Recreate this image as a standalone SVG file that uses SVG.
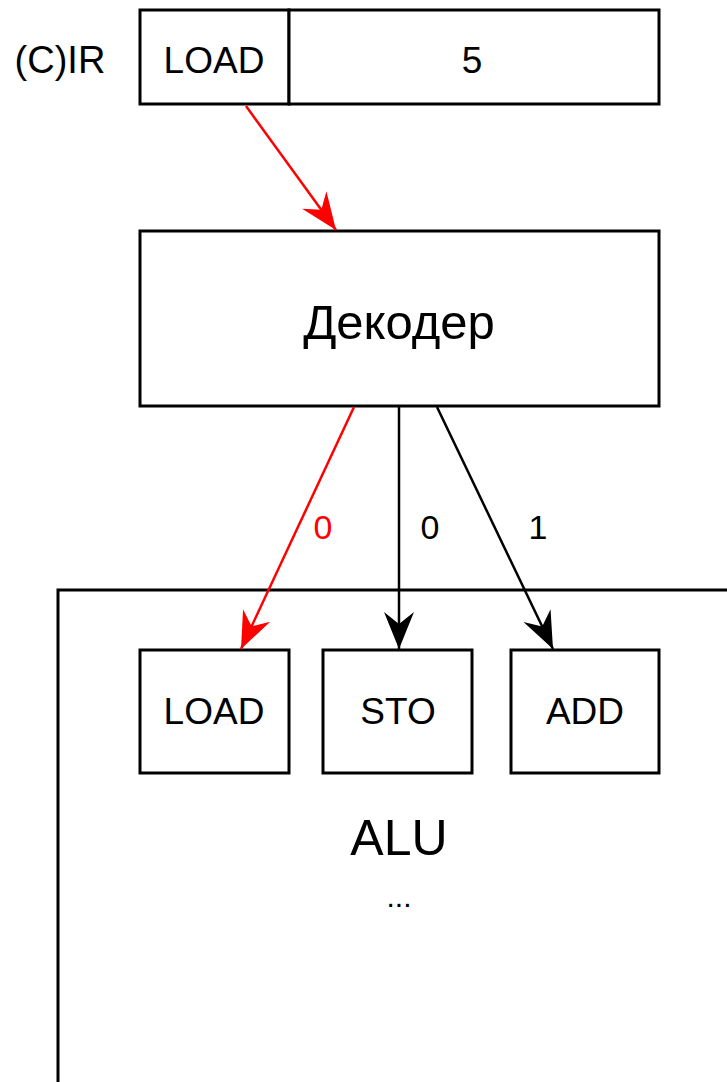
<svg xmlns="http://www.w3.org/2000/svg" width="727" height="1082" viewBox="0 0 727 1082">
<style>
.box{fill:#fff;stroke:#000;stroke-width:3}
.t{font-family:"Liberation Sans",Arial,sans-serif;fill:#000;text-anchor:middle;dominant-baseline:central}
.red{stroke:#ff0000;stroke-width:2.5;fill:none}
.blk{stroke:#000;stroke-width:2.5;fill:none}
</style>
<defs>
<marker id="ar" markerUnits="userSpaceOnUse" markerWidth="40" markerHeight="34" viewBox="-38 -16 40 32" refX="0" refY="0" orient="auto">
<path d="M0,0 L-37,-15 L-25,0 L-37,15 Z" fill="#ff0000"/>
</marker>
<marker id="ab" markerUnits="userSpaceOnUse" markerWidth="40" markerHeight="34" viewBox="-38 -16 40 32" refX="0" refY="0" orient="auto">
<path d="M0,0 L-37,-15 L-25,0 L-37,15 Z" fill="#000"/>
</marker>
</defs>
<rect width="727" height="1082" fill="#fff"/>
<g id="alu">
<path d="M58,1082 L58,590 L727,590" fill="none" stroke="#000" stroke-width="3"/>
<text class="t" x="399" y="838" font-size="50">ALU</text>
<text class="t" x="399" y="896" font-size="30">...</text>
</g>
<g id="ir-label"><text class="t" x="60" y="60" font-size="38">(C)IR</text></g>
<g id="ir-op"><rect class="box" x="140" y="10" width="149" height="94"/><text class="t" x="214" y="60" font-size="37">LOAD</text></g>
<g id="ir-arg"><rect class="box" x="289" y="10" width="370" height="94"/><text class="t" x="472" y="60" font-size="37">5</text></g>
<g id="decoder"><rect class="box" x="140" y="231" width="519" height="175"/><text class="t" x="399" y="322" font-size="49">Декодер</text></g>
<g id="load"><rect class="box" x="140" y="650" width="149" height="123"/><text class="t" x="214" y="711" font-size="37">LOAD</text></g>
<g id="sto"><rect class="box" x="323" y="650" width="149" height="123"/><text class="t" x="398" y="711" font-size="37">STO</text></g>
<g id="add"><rect class="box" x="511" y="650" width="148" height="123"/><text class="t" x="585" y="711" font-size="37">ADD</text></g>
<g id="connectors">
<line class="red" x1="246" y1="106" x2="336" y2="230" marker-end="url(#ar)"/>
<line class="red" x1="354" y1="407" x2="241" y2="649" marker-end="url(#ar)"/>
<line class="blk" x1="399" y1="407" x2="399" y2="649" marker-end="url(#ab)"/>
<line class="blk" x1="437" y1="407" x2="553" y2="649" marker-end="url(#ab)"/>
<text class="t" x="323" y="527" font-size="34" style="fill:#ff0000">0</text>
<text class="t" x="430" y="527" font-size="34">0</text>
<text class="t" x="538" y="527" font-size="34">1</text>
</g>
</svg>
